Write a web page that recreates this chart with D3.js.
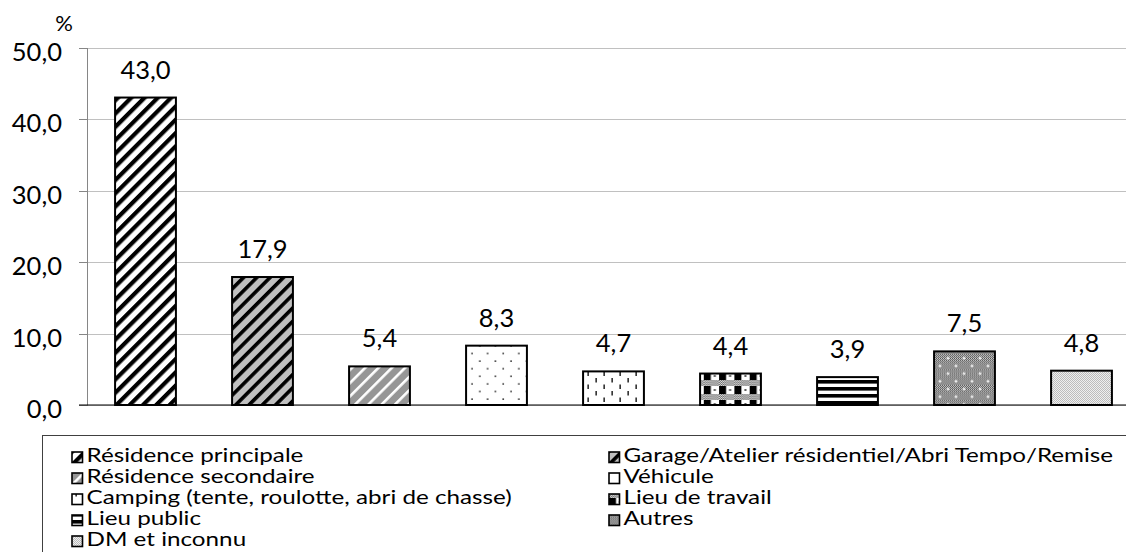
<!DOCTYPE html>
<html>
<head>
<meta charset="utf-8">
<script src="https://cdn.jsdelivr.net/npm/d3@7"></script>
<style>
  body { margin: 0; background: #fff; }
  svg { display: block; }
  text { font-family: Lato, "Open Sans", "DejaVu Sans", sans-serif; fill: #000; }
</style>
</head>
<body>
<svg id="chart" width="1126" height="552"></svg>
<script>
// Lieu de l'événement (%)
const categories = [
  "Résidence principale",
  "Garage/Atelier résidentiel/Abri Tempo/Remise",
  "Résidence secondaire",
  "Véhicule",
  "Camping (tente, roulotte, abri de chasse)",
  "Lieu de travail",
  "Lieu public",
  "Autres",
  "DM et inconnu"
];
const values = [43.0, 17.9, 5.4, 8.3, 4.7, 4.4, 3.9, 7.5, 4.8];
const yTicks = [0, 10, 20, 30, 40, 50];
const yMax = 50;

const W = 1126, H = 552;
const svg = d3.select("#chart");
const fmt = v => d3.format(".1f")(v).replace(".", ",");

// ---------- fill patterns ----------
const defs = svg.append("defs");

function pat(id, w, h, extra) {
  const p = defs.append("pattern")
    .attr("id", id)
    .attr("patternUnits", "userSpaceOnUse")
    .attr("width", w).attr("height", h);
  if (extra) Object.entries(extra).forEach(([k, v]) => p.attr(k, v));
  return p;
}
function stipple(id, a, b) {
  const p = pat(id, 2, 2);
  p.append("rect").attr("width", 2).attr("height", 2).attr("fill", a);
  p.append("rect").attr("width", 1).attr("height", 1).attr("fill", b);
  p.append("rect").attr("x", 1).attr("y", 1).attr("width", 1).attr("height", 1).attr("fill", b);
}
function diagonal(id, bg, fg, period, w) {
  const p = pat(id, period, period, { patternTransform: "rotate(45)" });
  p.append("rect").attr("width", period).attr("height", period).attr("fill", bg);
  p.append("rect").attr("width", w).attr("height", period).attr("fill", fg);
}

stipple("fineDark", "#cfcfcf", "#505050");
stipple("fineMid", "#e0e0e0", "#6a6a6a");
stipple("fineLight", "#efefef", "#bcbcbc");

diagonal("wideUp", "#fff", "#000", 9.4, 4.2);
diagonal("wideUpGrey", "#c0c0c0", "#000", 9.4, 3.6);
diagonal("lightUp", "#969696", "#fff", 9.4, 2.6);

// sparse dots
{
  const p = pat("dots", 15.6, 15.2);
  p.append("rect").attr("width", 15.6).attr("height", 15.2).attr("fill", "#fff");
  p.append("rect").attr("x", 3.3).attr("y", 3.2).attr("width", 1.5).attr("height", 1.5).attr("fill", "#222");
  p.append("rect").attr("x", 11.1).attr("y", 10.8).attr("width", 1.5).attr("height", 1.5).attr("fill", "#222");
}
// short vertical dashes
{
  const p = pat("dashes", 16, 13);
  p.append("rect").attr("width", 16).attr("height", 13).attr("fill", "#fff");
  p.append("rect").attr("x", 3.4).attr("y", 1).attr("width", 1.5).attr("height", 4.5).attr("fill", "#222");
  p.append("rect").attr("x", 11.4).attr("y", 7.5).attr("width", 1.5).attr("height", 4.5).attr("fill", "#222");
}
// checker blocks with textured band
{
  const p = pat("checker", 15.3, 14, { y: 2 });
  p.append("rect").attr("width", 15.3).attr("height", 14).attr("fill", "#fff");
  p.append("rect").attr("width", 15.3).attr("height", 6).attr("fill", "url(#fineMid)");
  p.append("rect").attr("x", 0).attr("y", 6).attr("width", 7).attr("height", 8).attr("fill", "#000");
  p.append("rect").attr("x", 10).attr("y", 9).attr("width", 2).attr("height", 2).attr("fill", "#555");
}
// horizontal stripes
{
  const p = pat("hstripes", 10, 7, { y: 2 });
  p.append("rect").attr("width", 10).attr("height", 7).attr("fill", "#fff");
  p.append("rect").attr("width", 10).attr("height", 3.6).attr("fill", "#000");
}
// dark stipple with light specks
{
  const p = pat("speckled", 16, 15.4);
  p.append("rect").attr("width", 16).attr("height", 15.4).attr("fill", "url(#fineDark)");
  [[4, 4], [12, 11.7]].forEach(([cx, cy]) => {
    p.append("rect").attr("x", cx - 1.5).attr("y", cy - 0.5).attr("width", 3).attr("height", 1).attr("fill", "#fff");
    p.append("rect").attr("x", cx - 0.5).attr("y", cy - 1.5).attr("width", 1).attr("height", 3).attr("fill", "#fff");
  });
}
// light stipple
{
  const p = pat("lightStipple", 2, 2);
  p.append("rect").attr("width", 2).attr("height", 2).attr("fill", "url(#fineLight)");
}

const fills = ["wideUp", "wideUpGrey", "lightUp", "dots", "dashes", "checker", "hstripes", "speckled", "lightStipple"];

// ---------- scales ----------
const x0 = 87, step = 117;
const x = d3.scaleBand()
  .domain(categories)
  .range([x0, x0 + step * categories.length])
  .paddingInner(0.48)
  .paddingOuter(0.24);
const y = d3.scaleLinear().domain([0, yMax]).range([405, 47.5]);

// gridlines
const grid = svg.append("g")
  .attr("transform", `translate(${x0},0)`)
  .call(d3.axisLeft(y).tickValues(yTicks).tickSize(-(W - x0)).tickFormat(""));
grid.select(".domain").remove();
grid.selectAll("line").attr("stroke", "#c0c0c0").attr("stroke-width", 1).attr("shape-rendering", "crispEdges");

// y axis
const yAxis = svg.append("g")
  .attr("transform", `translate(${x0},0)`)
  .call(d3.axisLeft(y).tickValues(yTicks).tickSize(8).tickSizeOuter(0).tickFormat(fmt).tickPadding(17));
yAxis.select(".domain").attr("stroke", "#868686").attr("shape-rendering", "crispEdges");
yAxis.selectAll(".tick line").attr("stroke", "#868686").attr("shape-rendering", "crispEdges");
yAxis.selectAll(".tick text")
  .attr("font-size", 25.5).attr("font-family", null).attr("fill", "#000")
  .attr("dy", "0.5em");

svg.append("text")
  .attr("x", 64).attr("y", 31)
  .attr("text-anchor", "middle")
  .attr("font-size", 22)
  .text("%");

// bars
svg.append("g").selectAll("rect")
  .data(values)
  .join("rect")
  .attr("x", (d, i) => x(categories[i]))
  .attr("y", d => y(d))
  .attr("width", x.bandwidth())
  .attr("height", d => y(0) - y(d))
  .attr("fill", (d, i) => `url(#${fills[i]})`)
  .attr("stroke", "#000")
  .attr("stroke-width", 2);

// baseline
svg.append("line")
  .attr("x1", x0 - 8).attr("x2", W)
  .attr("y1", y(0)).attr("y2", y(0))
  .attr("stroke", "#000").attr("stroke-width", 1.2);

// value labels
svg.append("g").selectAll("text")
  .data(values)
  .join("text")
  .attr("x", (d, i) => x(categories[i]) + x.bandwidth() / 2)
  .attr("y", d => y(d) - 19)
  .attr("text-anchor", "middle")
  .attr("font-size", 25.5)
  .text(d => fmt(d));

// ---------- legend ----------
svg.append("rect")
  .attr("x", 42.5).attr("y", 435.5)
  .attr("width", W).attr("height", 200)
  .attr("fill", "none").attr("stroke", "#404040").attr("stroke-width", 1);

const colX = [72, 609], row0 = 462, rowH = 21;
const legend = svg.append("g").selectAll("g")
  .data(categories)
  .join("g")
  .attr("transform", (d, i) => `translate(${colX[i % 2]},${row0 + Math.floor(i / 2) * rowH})`);
legend.append("rect")
  .attr("x", 0).attr("y", -10)
  .attr("width", 10.5).attr("height", 10.5)
  .attr("fill", (d, i) => `url(#${fills[i]})`)
  .attr("stroke", "#000").attr("stroke-width", 1.6);
legend.append("text")
  .attr("transform", "translate(14.5,0) scale(1.31,1)")
  .attr("font-size", 18.5)
  .text(d => d);
</script>
</body>
</html>
